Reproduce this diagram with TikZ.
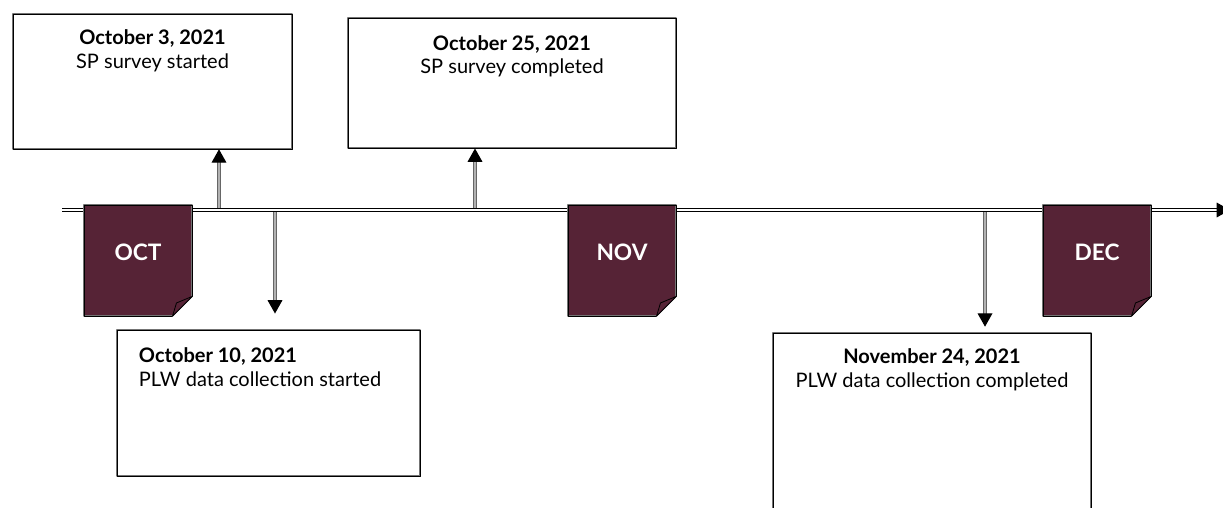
\documentclass[tikz,border=0pt]{standalone}
\usepackage{fontspec}
\setmainfont{Lato}
\usetikzlibrary{arrows.meta,positioning}
\definecolor{plum}{RGB}{86,35,54}
\tikzset{
  eventbox/.style={draw=black!55,double=black,double distance=0.5pt,line width=0.7pt,fill=white,inner sep=0pt},
  month/.style={draw=black!55,double=black,double distance=0.4pt,line width=0.7pt,fill=plum,minimum width=81pt,minimum height=83pt,inner sep=0pt},
  monthlabel/.style={text=white,font=\fontsize{17}{20}\selectfont\bfseries},
  datetext/.style={inner sep=0pt,font=\fontsize{15}{17.5}\selectfont},
  stem/.style={draw=black!30,line width=0.9pt,-{Triangle[black,width=11pt,length=10pt]},preaction={draw=black!60,line width=2.4pt,-,shorten >=9pt}},
  timeline/.style={draw=white,line width=0.9pt,-{Triangle[black,width=11pt,length=10pt]},preaction={draw=black,line width=2.6pt,-,shorten >=9pt}},
}
\begin{document}
\begin{tikzpicture}[x=0.75pt,y=-0.75pt,line join=round]
\useasboundingbox (0,0) rectangle (1223,507);
% event boxes
\node[eventbox,minimum width=209pt,minimum height=101pt] (spstart) at (152.5,81.5) {};
\node[datetext,align=center,below=12pt of spstart.north] (spstarttxt) {\textbf{October 3, 2021}\\SP survey started};
\node[eventbox,minimum width=246pt,minimum height=97.5pt] (spend) at (512,83) {};
\node[datetext,align=center,below=13.5pt of spend.north] (spendtxt) {\textbf{October 25, 2021}\\SP survey completed};
\node[eventbox,minimum width=227pt,minimum height=109.5pt] (plwstart) at (268.5,403) {};
\node[datetext,align=left,below right=13.5pt and 16.5pt of plwstart.north west] (plwstarttxt) {\textbf{October 10, 2021}\\PLW data collection started};
\node[eventbox,minimum width=238.5pt,minimum height=155pt] (plwend) at (932,436.5) {};
\node[datetext,align=center,below=12pt of plwend.north] (plwendtxt) {\textbf{November 24, 2021}\\PLW data collection completed};
% arrows from the time line
\coordinate (e1) at (219,210);
\coordinate (e2) at (275,210);
\coordinate (e3) at (475,210);
\coordinate (e4) at (985,210);
\draw[stem] (e1) -- (e1 |- spstart.south);
\draw[stem] (e3) -- (e3 |- spend.south);
\draw[stem] (e2) -- ([yshift=12pt]e2 |- plwstart.north);
\draw[stem] (e4) -- ([yshift=4.5pt]e4 |- plwend.north);
% time line
\coordinate (tl0) at (62,210);
\coordinate (tl1) at (1230,210);
\draw[timeline] (tl0) -- (tl1);
% months
\foreach \m/\x in {OCT/138,NOV/622,DEC/1097}{
  \node[month] (\m) at (\x,260.5) {};
  \fill[white] ([xshift=-15pt]\m.south east) -- ([xshift=-17pt,yshift=-2pt]\m.south east) -- ([xshift=2pt,yshift=-2pt]\m.south east) -- ([xshift=2pt,yshift=17pt]\m.south east) -- ([yshift=15pt]\m.south east) -- cycle;
  \filldraw[fill=plum,draw=black,line width=0.6pt] ([xshift=-15pt]\m.south east) -- ([xshift=-12pt,yshift=10pt]\m.south east) -- ([yshift=15pt]\m.south east) -- cycle;
  \node[monthlabel] (\m lbl) at ([yshift=6pt]\m) {\m};
}
\end{tikzpicture}
\end{document}
